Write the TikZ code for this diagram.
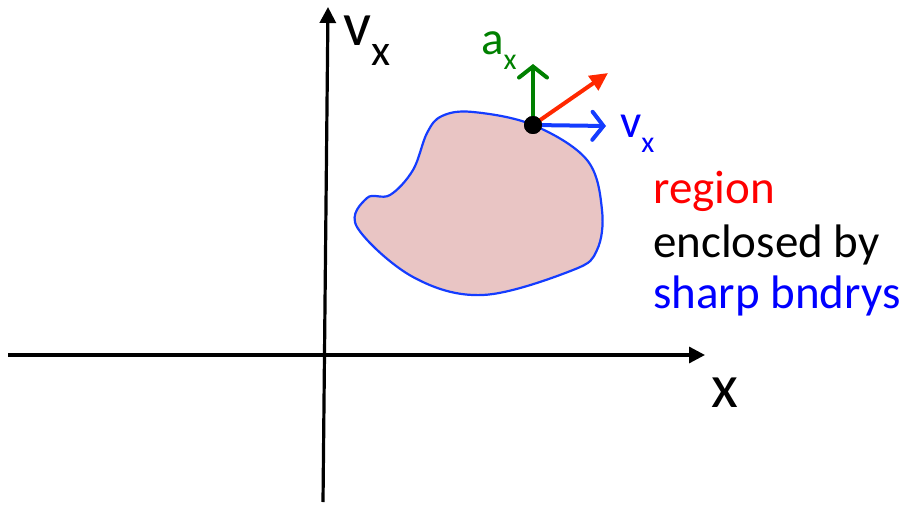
\documentclass[tikz,border=0pt]{standalone}
\usepackage{fontspec}
\setmainfont{Carlito}
\usetikzlibrary{arrows.meta}
\definecolor{blobfill}{RGB}{233,197,196}
\definecolor{blobline}{RGB}{20,60,255}
\definecolor{ggreen}{RGB}{0,128,0}
\definecolor{rred}{RGB}{255,40,0}
\definecolor{bblue}{RGB}{20,60,255}
\definecolor{tred}{RGB}{255,0,0}
\definecolor{tblue}{RGB}{0,0,255}
\tikzset{
  axis/.style={line width=3.2pt, -{Triangle[length=16pt,width=16pt]}},
  vecopen/.style={line width=4pt, -{Straight Barb[length=11pt,width=28pt,line cap=round]}},
  vecfill/.style={line width=4pt, -{Triangle[length=18pt,width=17pt]}},
  big/.style={font=\fontsize{62}{62}\selectfont, inner sep=0pt, text height=30pt, text depth=0pt},
  mid/.style={font=\fontsize{47}{50}\selectfont, inner sep=0pt, anchor=base west},
  small/.style={inner sep=0pt, font=\fontsize{47}{47}\selectfont, anchor=base west, text height=24pt, text depth=0pt},
}
\begin{document}
\begin{tikzpicture}[x=1pt,y=-1pt]
\useasboundingbox (0,0) rectangle (909,505);
% axes
\coordinate (hL) at (8,355);
\coordinate (hR) at (705,355);
\coordinate (vB) at (323,502);
\coordinate (vT) at (328,7);
\draw[axis] (hL) -- (hR);
\draw[axis] (vB) -- (vT);
% blob
\draw[blobline, fill=blobfill, line width=2.2pt]
  plot[smooth cycle, tension=0.6] coordinates {
   (473,112) (533,125) (587,160) (602,210) (597,250) (573,270)
   (483,295) (413,277) (357,227) (367,198) (390,195) (413,170)
   (427,133) (442,116)};
% point and vectors
\node[circle, fill=black, minimum size=18pt, inner sep=0pt] (p) at (533,125) {};
\coordinate (ga) at (533,64);
\coordinate (ra) at (608,73);
\coordinate (ba) at (606,126);
\draw[vecopen, ggreen] (p.center) -- (ga);
\draw[vecfill, rred] (p.center) -- (ra);
\draw[vecopen, bblue] (p.center) -- (ba);
\node[circle, fill=black, minimum size=18pt, inner sep=0pt] at (p) {};
% labels
\node[big, anchor=base west] (vx) at (343,46) {v\raisebox{-0.32em}{\fontsize{44}{44}\selectfont x}};
\node[big, anchor=base] (xl) at (725,407) {x};
\node[small, ggreen] (ax) at (481,55) {a\raisebox{-0.3em}{\fontsize{30}{30}\selectfont x}};
\node[small, tblue] (vxb) at (620,138) {v\raisebox{-0.3em}{\fontsize{30}{30}\selectfont x}};
\node[mid, tred] (t1) at (653,203) {region};
\node[mid, black] (t2) at (653,257) {enclosed by};
\node[mid, tblue] (t3) at (653,308) {sharp bndrys};
\end{tikzpicture}
\end{document}
